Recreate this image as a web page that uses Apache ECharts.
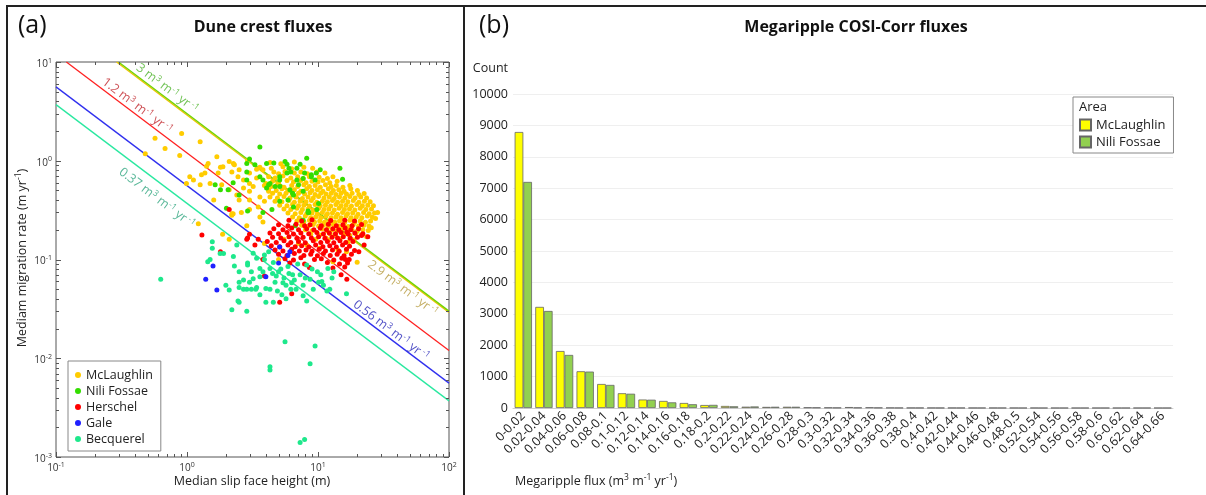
<!DOCTYPE html>
<html><head><meta charset="utf-8">
<script src="https://cdn.jsdelivr.net/npm/echarts@6/dist/echarts.min.js"></script>
<style>
html,body{margin:0;padding:0;background:#fff;}
#wrap{position:relative;width:1206px;height:495px;overflow:hidden;background:#fff;}
#ca,#cb{position:absolute;left:0;top:0;width:1206px;height:495px;}
.ln{position:absolute;background:#222;}
</style></head><body>
<div id="wrap">
<div id="ca"></div><div id="cb"></div>
<div class="ln" style="left:6px;top:5px;width:1200px;height:2px"></div>
<div class="ln" style="left:6px;top:5px;width:2px;height:490px"></div>
<div class="ln" style="left:463px;top:5px;width:2px;height:490px"></div>
</div>
<script>
// ---------------- DATA: panel (a) [slip face height (m), migration rate (m/yr)] ----------------
const mclaughlin = [
[0.57,1.69],[0.91,1.89],[1.26,1.56],[0.68,1.33],[0.88,1.13],[0.48,1.18],[1.69,1.1],[1.45,0.94],[1.29,0.72],[1.05,0.69],[1.12,0.64],[1.37,0.75],[0.99,0.59],[1.26,0.57],[1.5,0.59],[1.84,0.57],[1.73,0.75],[1.88,0.87],[2.1,0.98],[2.3,0.91],[2.2,0.77],[2.5,0.81],[2.45,0.69],[2.7,0.64],[3.0,0.75],[3.0,0.59],[3.4,0.67],[3.2,0.55],[2.1,0.51],[2.4,0.45],[2.7,0.53],[3.0,0.49],[1.6,0.4],[2.5,0.4],[3.0,0.4],[3.6,0.43],[2.2,0.29],[2.6,0.3],[3.0,0.32],[3.5,0.34],[3.9,0.39],[4.2,0.49],[4.0,0.59],[3.8,0.81],[1.22,0.23],[1.87,0.18],[2.1,0.16],[2.25,0.29],[2.86,0.22],[3.6,0.27],[3.8,0.24],[3.9,0.145],[2.2,0.28],[3.4,0.82],[2.9,1.0],[2.26,0.94],[1.8,0.86],[1.41,0.88],
[4.3,0.96],[5.2,0.93],[6.6,0.97],
[3.6,0.86],[4.4,0.84],[5.4,0.87],[6.3,0.83],[7.8,0.86],[9.1,0.84],
[4.6,0.77],[5.0,0.74],[5.6,0.78],[6.6,0.75],[7.4,0.77],[8.3,0.74],[9.8,0.77],[11.3,0.75],
[4.2,0.69],[4.7,0.67],[5.4,0.70],[6.2,0.67],[7.0,0.69],[7.7,0.66],[8.6,0.69],[10.2,0.68],[11.8,0.66],[13.0,0.69],
[4.5,0.62],[5.0,0.60],[5.8,0.63],[6.5,0.61],[7.4,0.63],[8.1,0.60],[9.0,0.62],[10.0,0.61],[10.9,0.63],[12.3,0.60],[14.0,0.62],
[3.9,0.56],[4.4,0.55],[4.9,0.57],[5.5,0.54],[6.3,0.56],[7.0,0.55],[7.8,0.57],[8.6,0.55],[9.5,0.56],[10.4,0.54],[11.4,0.57],[12.6,0.55],[13.8,0.56],[15.5,0.54],[17.5,0.56],
[4.2,0.51],[4.8,0.50],[5.3,0.52],[5.9,0.50],[6.6,0.51],[7.4,0.49],[8.2,0.52],[9.0,0.50],[9.9,0.51],[10.9,0.49],[12.0,0.52],[13.1,0.50],[14.4,0.51],[15.8,0.49],[17.8,0.52],[20.0,0.50],
[4.5,0.47],[5.1,0.46],[5.7,0.47],[6.4,0.455],[7.1,0.47],[7.9,0.46],[8.7,0.475],[9.5,0.455],[10.5,0.47],[11.5,0.46],[12.6,0.47],[13.7,0.455],[15.0,0.47],[16.5,0.46],[18.2,0.47],[20.5,0.455],[22.5,0.465],
[4.3,0.43],[4.9,0.42],[5.5,0.435],[6.1,0.42],[6.8,0.43],[7.6,0.415],[8.4,0.43],[9.2,0.42],[10.1,0.435],[11.1,0.42],[12.2,0.43],[13.3,0.415],[14.6,0.43],[16.0,0.42],[17.5,0.435],[19.2,0.42],[21.2,0.43],[23.5,0.42],
[4.7,0.39],[5.3,0.385],[6.0,0.395],[6.6,0.38],[7.3,0.39],[8.1,0.385],[8.9,0.395],[9.8,0.38],[10.8,0.39],[11.8,0.385],[12.9,0.395],[14.1,0.38],[15.4,0.39],[16.9,0.385],[18.6,0.395],[20.5,0.38],[22.6,0.39],[25.0,0.385],
[5.1,0.355],[5.8,0.35],[6.4,0.36],[7.1,0.35],[7.8,0.355],[8.6,0.348],[9.5,0.36],[10.4,0.35],[11.4,0.355],[12.5,0.348],[13.7,0.36],[15.0,0.35],[16.4,0.355],[18.0,0.348],[19.8,0.36],[21.8,0.35],[24.0,0.355],[26.5,0.35],
[5.5,0.325],[6.2,0.32],[6.9,0.33],[7.6,0.32],[8.4,0.325],[9.2,0.318],[10.1,0.33],[11.1,0.32],[12.1,0.325],[13.3,0.318],[14.5,0.33],[15.9,0.32],[17.4,0.325],[19.1,0.318],[21.0,0.33],[23.2,0.32],[25.6,0.325],
[5.9,0.295],[6.7,0.29],[7.4,0.3],[8.2,0.29],[9.0,0.295],[9.9,0.288],[10.8,0.3],[11.8,0.29],[12.9,0.295],[14.1,0.288],[15.4,0.3],[16.8,0.29],[18.4,0.295],[20.2,0.288],[22.3,0.3],[24.6,0.29],[27.0,0.295],
[6.4,0.27],[7.2,0.265],[8.0,0.275],[8.8,0.265],[9.6,0.27],[10.5,0.264],[11.5,0.275],[12.6,0.265],[13.7,0.27],[15.0,0.264],[16.4,0.275],[17.9,0.265],[19.6,0.27],[21.6,0.264],[23.8,0.275],[26.0,0.268],
[6.9,0.245],[7.8,0.24],[8.6,0.25],[9.4,0.24],[10.3,0.245],[11.2,0.238],[12.3,0.25],[13.4,0.24],[14.6,0.245],[16.0,0.238],[17.5,0.25],[19.1,0.24],[21.0,0.245],[23.0,0.238],[25.2,0.245],
[7.5,0.222],[8.4,0.218],[9.2,0.226],[10.1,0.218],[11.0,0.222],[12.0,0.216],[13.1,0.226],[14.3,0.218],[15.6,0.222],[17.0,0.216],[18.6,0.226],[20.4,0.218],[22.4,0.222],[24.5,0.218],
[8.0,0.2],[9.0,0.196],[10.7,0.204],[11.7,0.196],[12.8,0.2],[14.0,0.195],[15.3,0.204],[16.7,0.196],[18.2,0.2],[20.0,0.195],[22.0,0.2],[24.2,0.197],
[8.8,0.18],[10.3,0.177],[12.4,0.182],[13.6,0.176],[15.8,0.18],[17.5,0.176],[19.5,0.182],[21.5,0.178],
[9.6,0.16],[12.0,0.158],[14.8,0.162],[18.8,0.158],
[5.5,0.16],[7.1,0.145],[11.5,0.165],[14.2,0.125],[17.0,0.15],[19.9,0.094],[10.3,0.13],[6.2,0.12],[5.0,0.1],[13.0,0.095],[23.5,0.17],[25.5,0.21],[27.5,0.26],[28.5,0.3],[16.5,0.12],[8.2,0.14]
];
const niliFossae = [
[3.6,1.38],[8.2,1.06],[14.7,0.84],[15.4,0.65],[10.4,0.81],[4.05,0.94],[4.6,0.95],[5.6,0.98],[5.8,0.92],[6.0,0.84],[7.9,0.75],[8.9,0.69],[9.5,0.64],[6.9,0.64],[7.1,0.57],[6.4,0.47],[5.1,0.39],[8.4,0.31],[9.8,0.32],[3.8,0.30],[4.45,0.32],[7.7,0.49],[6.1,0.51],[4.3,0.59],[4.05,0.53],[4.7,0.55],[3.6,0.69],[3.8,0.64],[5.1,0.64],[5.8,0.75],[2.86,0.94],[3.3,0.91],[2.86,0.77],[1.64,0.57],[1.8,0.51],[2.06,0.51],[2.25,0.6],[2.5,0.45],[2.86,0.64],[2.0,0.33],[3.0,1.04],[7.3,0.92],[6.9,0.84],[7.6,0.25],[8.5,0.30],[6.5,0.34],[10.1,0.37],[6.5,0.45],[5.9,0.40],[5.1,0.69],[7.7,0.66],[6.2,0.77],[8.9,0.72],[9.7,0.75],[4.2,0.57],[5.1,0.55],[2.9,0.31],[7.7,0.25],[6.7,0.22],[8.4,0.30]
];
const herschel = [
[6.0,0.25],[7.5,0.245],[9.0,0.252],[12.5,0.248],[16.0,0.25],[19.0,0.245],
[5.0,0.225],[5.9,0.22],[6.8,0.228],[7.9,0.22],[8.7,0.225],[10.6,0.22],[12.0,0.228],[13.8,0.22],[15.5,0.225],[18.2,0.22],[21.5,0.226],
[4.6,0.205],[5.4,0.2],[6.3,0.208],[7.1,0.2],[8.2,0.205],[9.3,0.2],[10.4,0.208],[11.6,0.2],[13.0,0.205],[14.4,0.2],[16.1,0.208],[17.8,0.2],[20.4,0.205],
[4.3,0.185],[5.0,0.182],[5.8,0.188],[6.5,0.181],[7.4,0.185],[8.5,0.182],[9.8,0.188],[11.0,0.181],[12.2,0.185],[13.6,0.182],[15.0,0.188],[17.0,0.181],[19.1,0.185],[22.0,0.182],
[4.5,0.168],[5.2,0.165],[6.0,0.17],[6.9,0.164],[7.7,0.168],[8.9,0.165],[10.1,0.17],[11.3,0.164],[12.8,0.168],[14.1,0.165],[15.6,0.17],[17.6,0.164],[20.0,0.168],
[4.1,0.152],[4.8,0.149],[5.5,0.155],[6.2,0.149],[7.1,0.152],[8.0,0.148],[9.2,0.155],[10.5,0.149],[11.8,0.152],[13.2,0.148],[14.7,0.155],[16.3,0.149],[18.5,0.152],
[4.4,0.138],[5.1,0.135],[5.9,0.14],[6.7,0.135],[7.5,0.138],[8.5,0.134],[9.6,0.14],[10.9,0.135],[12.3,0.138],[13.8,0.134],[15.4,0.14],[17.4,0.136],
[4.7,0.125],[5.4,0.122],[6.3,0.127],[7.2,0.122],[8.1,0.125],[9.0,0.121],[10.2,0.127],[11.4,0.122],[12.9,0.125],[14.5,0.121],[16.5,0.127],[19.0,0.123],
[5.0,0.113],[5.8,0.11],[6.6,0.115],[7.8,0.11],[8.8,0.113],[9.9,0.109],[11.0,0.115],[12.4,0.11],[14.0,0.113],[15.8,0.109],[18.0,0.113],
[5.6,0.102],[6.5,0.099],[7.4,0.104],[9.4,0.1],[10.6,0.102],[13.2,0.099],[15.2,0.103],[17.3,0.1],
[6.1,0.092],[7.9,0.09],[11.8,0.093],[14.6,0.09],[16.8,0.092],
[8.6,0.083],[13.0,0.082],[16.0,0.084],
[2.1,0.32],[1.3,0.177],[1.8,0.12],[2.9,0.165],[3.9,0.068],[5.1,0.037],[6.3,0.045],[15,0.07],[16.6,0.063],[16.2,0.1],[3.3,0.14],[20.5,0.12],[22.5,0.14],[24,0.17],[16.6,0.19],[21.5,0.175],[3.0,0.18],[3.5,0.16],[2.86,0.16],[3.8,0.1]
];
const gale = [[1.58,0.086],[1.39,0.063],[1.69,0.049],[4.0,0.067],[5.0,0.092],[5.9,0.11],[5.1,0.134],[6.1,0.12]];
const becquerel = [
[0.63,0.063],[1.56,0.151],[1.56,0.13],[1.5,0.1],[1.44,0.095],[1.79,0.115],[1.9,0.115],[2.26,0.107],[2.4,0.14],[2.3,0.086],[1.98,0.055],[2.1,0.049],[2.2,0.031],[2.86,0.030],[2.5,0.037],[2.7,0.05],[3.0,0.059],[3.1,0.075],[2.5,0.059],[3.35,0.05],[3.6,0.044],[4.0,0.037],[4.3,0.05],[4.7,0.059],[5.3,0.044],[5.7,0.055],[6.4,0.07],[6.8,0.05],[7.7,0.043],[8.2,0.038],[9.2,0.05],[10.1,0.059],[11,0.055],[11.7,0.048],[11.9,0.081],[13.2,0.075],[9.9,0.075],[8.2,0.088],[7.3,0.07],[5.0,0.075],[4.56,0.093],[4.3,0.081],[3.6,0.081],[3.9,0.111],[3.4,0.103],[2.5,0.075],[2.9,0.088],[3.1,0.05],[4.56,0.037],[5.7,0.04],[6.2,0.05],[7.7,0.055],[8.7,0.063],[2.9,0.092],[3.2,0.064],[3.6,0.067],[2.7,0.062],[2.5,0.052],[2.86,0.05],[4.0,0.051],[3.4,0.052],[3.8,0.075],[3.9,0.1],[3.2,0.116],[4.2,0.12],[2.45,0.038],[10.7,0.06],[12.3,0.05],
[4.8,0.068],[5.2,0.08],[5.5,0.065],[6.0,0.072],[5.9,0.085],[4.5,0.072],[6.6,0.062],[7.0,0.09],[5.4,0.058],[4.9,0.048],[6.3,0.058],[8.0,0.065],[9.0,0.08],[10.5,0.07],[12.8,0.065],[16.5,0.045],
[5.6,0.0147],[9.5,0.0133],[8.7,0.0088],[4.3,0.0082],[4.3,0.0076],[7.3,0.0014],[7.9,0.0015]
];
// flux lines (m3 m-1 yr-1): rate = q / H
const fluxValues = [2.9, 3, 1.2, 0.56, 0.37];
const fluxLabelH = [48.5, 0.647, 0.385, 33.5, 0.682];   // where along each line its label sits
const xTickMajor = [0.1, 1, 10, 100];
const yTickMajor = [0.001, 0.01, 0.1, 1, 10];

// ---------------- DATA: panel (b) ----------------
const binLabels = ['0-0.02','0.02-0.04','0.04-0.06','0.06-0.08','0.08-0.1','0.1-0.12','0.12-0.14','0.14-0.16','0.16-0.18','0.18-0.2','0.2-0.22','0.22-0.24','0.24-0.26','0.26-0.28','0.28-0.3','0.3-0.32','0.32-0.34','0.34-0.36','0.36-0.38','0.38-0.4','0.4-0.42','0.42-0.44','0.44-0.46','0.46-0.48','0.48-0.5','0.52-0.54','0.54-0.56','0.56-0.58','0.58-0.6','0.6-0.62','0.62-0.64','0.64-0.66'];
const countMcLaughlin = [8790,3220,1815,1170,765,470,270,225,160,95,65,42,35,40,20,15,30,20,8,6,5,4,3,3,2,2,1,1,1,1,1,1];
const countNiliFossae = [7200,3090,1690,1160,735,455,265,180,120,100,55,50,40,40,15,10,12,10,5,4,3,3,2,2,1,1,1,1,1,1,1,1];

// ---------------- STYLE ----------------
const FONT = '"Open Sans","Noto Sans",sans-serif';
const GA = {left:56, top:62, width:393, height:395};
const theta = Math.atan2(GA.height/4, GA.width/3);
const sinT = Math.sin(theta), cosT = Math.cos(theta);
const fluxLineColor = ['#f2c200','#6fd400','#ff2020','#3030ee','#2ae8a0'];
const fluxTextColor = ['#b59a3c','#4cb32a','#c0242a','#2626b8','#2ea57e'];
const fluxSide = [-1, 1, 1, 1, -1];
const fluxDist = [7.5, 9, 8.5, 8, 13];
const supRich = {
  b:{fontSize:10, color:'#333', fontFamily:FONT, lineHeight:14, verticalAlign:'bottom'},
  s:{fontSize:7, color:'#333', fontFamily:FONT, lineHeight:14, verticalAlign:'bottom', padding:[0,0,5,0]}
};
function powLabel(v){ const e = Math.round(Math.log10(v)); return '{b|10}{s|' + e + '}'; }

const lineSeries = fluxValues.map((q,i) => {
  const h0 = Math.max(0.1, q/10);
  return {type:'line', xAxisIndex:0, yAxisIndex:0, silent:true, symbol:'none', z:1,
    lineStyle:{color:fluxLineColor[i], width:1.3}, data:[[h0, q/h0],[100, q/100]]};
});
const labelSeries = {
  type:'scatter', symbolSize:1, silent:true, z:6, itemStyle:{color:'rgba(0,0,0,0)'},
  data: fluxValues.map((q,i) => {
    const H = fluxLabelH[i], d = fluxSide[i]*fluxDist[i];
    const qs = String(q);
    const c = fluxTextColor[i];
    return {value:[H, q/H], label:{show:true, position:[d*sinT+0.5, -d*cosT+0.5], align:'center', verticalAlign:'middle',
      rotate: -theta*180/Math.PI,
      formatter: '{n|'+qs+' m}{s|3}{n| m}{s|-1}{n| yr}{s| -1}',
      rich:{n:{fontSize:12.5, color:c, fontFamily:FONT, lineHeight:15, verticalAlign:'bottom'},
            s:{fontSize:8.5, color:c, fontFamily:FONT, lineHeight:15, verticalAlign:'bottom', padding:[0,0,5,0]}}}};
  })
};
function minors(majors){ const out=[]; for(let i=0;i<majors.length-1;i++){ for(let m=2;m<=9;m++){ out.push(majors[i]*m); } } return out; }
const xTickData = xTickMajor.map(v=>[v,1,1]).concat(minors(xTickMajor).map(v=>[v,1,0]));
const yTickData = yTickMajor.map(v=>[1,v,1]).concat(minors(yTickMajor).map(v=>[1,v,0]));
const tickStroke = {stroke:'#555', lineWidth:1};
const xTickSeries = {type:'custom', silent:true, z:8, clip:false, encode:{x:0,y:1}, data:xTickData,
  renderItem:(p,api)=>{ const v=api.value(0), L=api.value(2)?5:3; const a=api.coord([v,0.001]), b=api.coord([v,10]);
    const x = Math.round(a[0])+0.5;
    return {type:'group', children:[
      {type:'line', shape:{x1:x,y1:a[1],x2:x,y2:a[1]-L}, style:tickStroke},
      {type:'line', shape:{x1:x,y1:b[1],x2:x,y2:b[1]+L}, style:tickStroke}]}; }};
const yTickSeries = {type:'custom', silent:true, z:8, clip:false, encode:{x:0,y:1}, data:yTickData,
  renderItem:(p,api)=>{ const v=api.value(1), L=api.value(2)?5:3; const a=api.coord([0.1,v]), b=api.coord([100,v]);
    const y = Math.round(a[1])+0.5;
    return {type:'group', children:[
      {type:'line', shape:{x1:a[0],y1:y,x2:a[0]+L,y2:y}, style:tickStroke},
      {type:'line', shape:{x1:b[0],y1:y,x2:b[0]-L,y2:y}, style:tickStroke}]}; }};

const groups = [
  ['McLaughlin', mclaughlin, '#ffcc00'],
  ['Nili Fossae', niliFossae, '#33dd00'],
  ['Herschel', herschel, '#ff0000'],
  ['Gale', gale, '#2020ff'],
  ['Becquerel', becquerel, '#1ee88c']
];
const scatterSeries = groups.map(g => ({name:g[0], type:'scatter', data:g[1], symbolSize:5, z:3,
  itemStyle:{color:g[2], opacity:1}, emphasis:{disabled:true}}));

const chartA = echarts.init(document.getElementById('ca'), null, {renderer:'canvas'});
chartA.setOption({
  animation:false,
  textStyle:{fontFamily:FONT},
  grid:{left:GA.left, top:GA.top, width:GA.width, height:GA.height, show:true, borderColor:'#555', borderWidth:1, backgroundColor:'#fff'},
  xAxis:{type:'log', logBase:10, min:0.1, max:100, axisLine:{show:false}, axisTick:{show:false}, splitLine:{show:false},
    axisLabel:{formatter:powLabel, rich:supRich, margin:2}},
  yAxis:{type:'log', logBase:10, min:0.001, max:10, axisLine:{show:false}, axisTick:{show:false}, splitLine:{show:false},
    axisLabel:{formatter:powLabel, rich:supRich, margin:4}},
  legend:{data:groups.map(g=>g[0]), orient:'vertical', left:68, top:361, icon:'circle', itemWidth:6, itemHeight:6, itemGap:2, itemTextGap:6,
    padding:[7,8,5,7], backgroundColor:'#fff', borderColor:'#888', borderWidth:1, selectedMode:false,
    textStyle:{fontSize:12.5, color:'#222', lineHeight:14, fontFamily:FONT}},
  graphic:[
    {type:'text', left:18, top:13, style:{text:'(a)', fontSize:25, fill:'#111', fontFamily:FONT}},
    {type:'text', x:263, y:27, style:{text:'Dune crest fluxes', fontSize:16, fontWeight:'bold', fill:'#111', fontFamily:FONT, align:'center', verticalAlign:'middle'}},
    {type:'text', x:252, y:481, style:{text:'Median slip face height (m)', fontSize:12.5, fill:'#222', fontFamily:FONT, align:'center', verticalAlign:'middle'}},
    {type:'text', x:21, y:258, rotation:Math.PI/2, style:{text:'{n|Mediam migration rate (m yr}{s|-1}{n|)}', align:'center', verticalAlign:'middle',
      rich:{n:{fontSize:12.5, fill:'#222', fontFamily:FONT, lineHeight:15, verticalAlign:'bottom'}, s:{fontSize:8.5, fill:'#222', fontFamily:FONT, lineHeight:15, verticalAlign:'bottom', padding:[0,0,5,0]}}}}
  ],
  series: lineSeries.concat(scatterSeries, [labelSeries, xTickSeries, yTickSeries])
});

// ---------------- panel (b) ----------------
const chartB = echarts.init(document.getElementById('cb'), null, {renderer:'canvas'});
chartB.setOption({
  animation:false,
  textStyle:{fontFamily:FONT},
  grid:{left:513, top:94, width:660, height:314},
  xAxis:{type:'category', data:binLabels, boundaryGap:true,
    axisLine:{lineStyle:{color:'#cfcfcf'}}, axisTick:{show:false},
    axisLabel:{interval:0, rotate:45, fontSize:12.5, color:'#222', margin:6, fontFamily:FONT}},
  yAxis:{type:'value', min:0, max:10000, interval:1000, name:'Count', nameLocation:'end', nameGap:19,
    nameTextStyle:{align:'right', fontSize:12.5, color:'#222', padding:[0,5,0,0], fontFamily:FONT},
    axisLine:{show:false}, axisTick:{show:false}, splitLine:{lineStyle:{color:'#efefef'}},
    axisLabel:{fontSize:12.5, color:'#222', margin:5, fontFamily:FONT, formatter:v=>String(v)}},
  legend:{data:['McLaughlin','Nili Fossae'], orient:'vertical', left:1073, top:97, icon:'rect', itemWidth:11, itemHeight:11, itemGap:3, itemTextGap:3,
    padding:[21,8,4,6], backgroundColor:'#fff', borderColor:'#888', borderWidth:1, selectedMode:false,
    textStyle:{fontSize:13, color:'#222', lineHeight:14, fontFamily:FONT}},
  graphic:[
    {type:'text', left:479, top:13, style:{text:'(b)', fontSize:25, fill:'#111', fontFamily:FONT}},
    {type:'text', x:856, y:27, style:{text:'Megaripple COSI-Corr fluxes', fontSize:16, fontWeight:'bold', fill:'#111', fontFamily:FONT, align:'center', verticalAlign:'middle'}},
    {type:'text', x:1079, y:107, z:100, style:{text:'Area', fontSize:13, fill:'#222', fontFamily:FONT, verticalAlign:'middle'}},
    {type:'text', x:515, y:480, style:{text:'{n|Megaripple flux (m}{s|3}{n| m}{s|-1}{n| yr}{s|-1}{n|)}', verticalAlign:'middle',
      rich:{n:{fontSize:12.5, fill:'#222', fontFamily:FONT, lineHeight:15, verticalAlign:'bottom'}, s:{fontSize:8.5, fill:'#222', fontFamily:FONT, lineHeight:15, verticalAlign:'bottom', padding:[0,0,5,0]}}}}
  ],
  series:[
    {name:'McLaughlin', type:'bar', data:countMcLaughlin, barGap:'0%', barCategoryGap:'16%',
      itemStyle:{color:'#ffff00', borderColor:'#666', borderWidth:0.8}},
    {name:'Nili Fossae', type:'bar', data:countNiliFossae,
      itemStyle:{color:'#92d050', borderColor:'#666', borderWidth:0.8}}
  ]
});
</script>
</body></html>
